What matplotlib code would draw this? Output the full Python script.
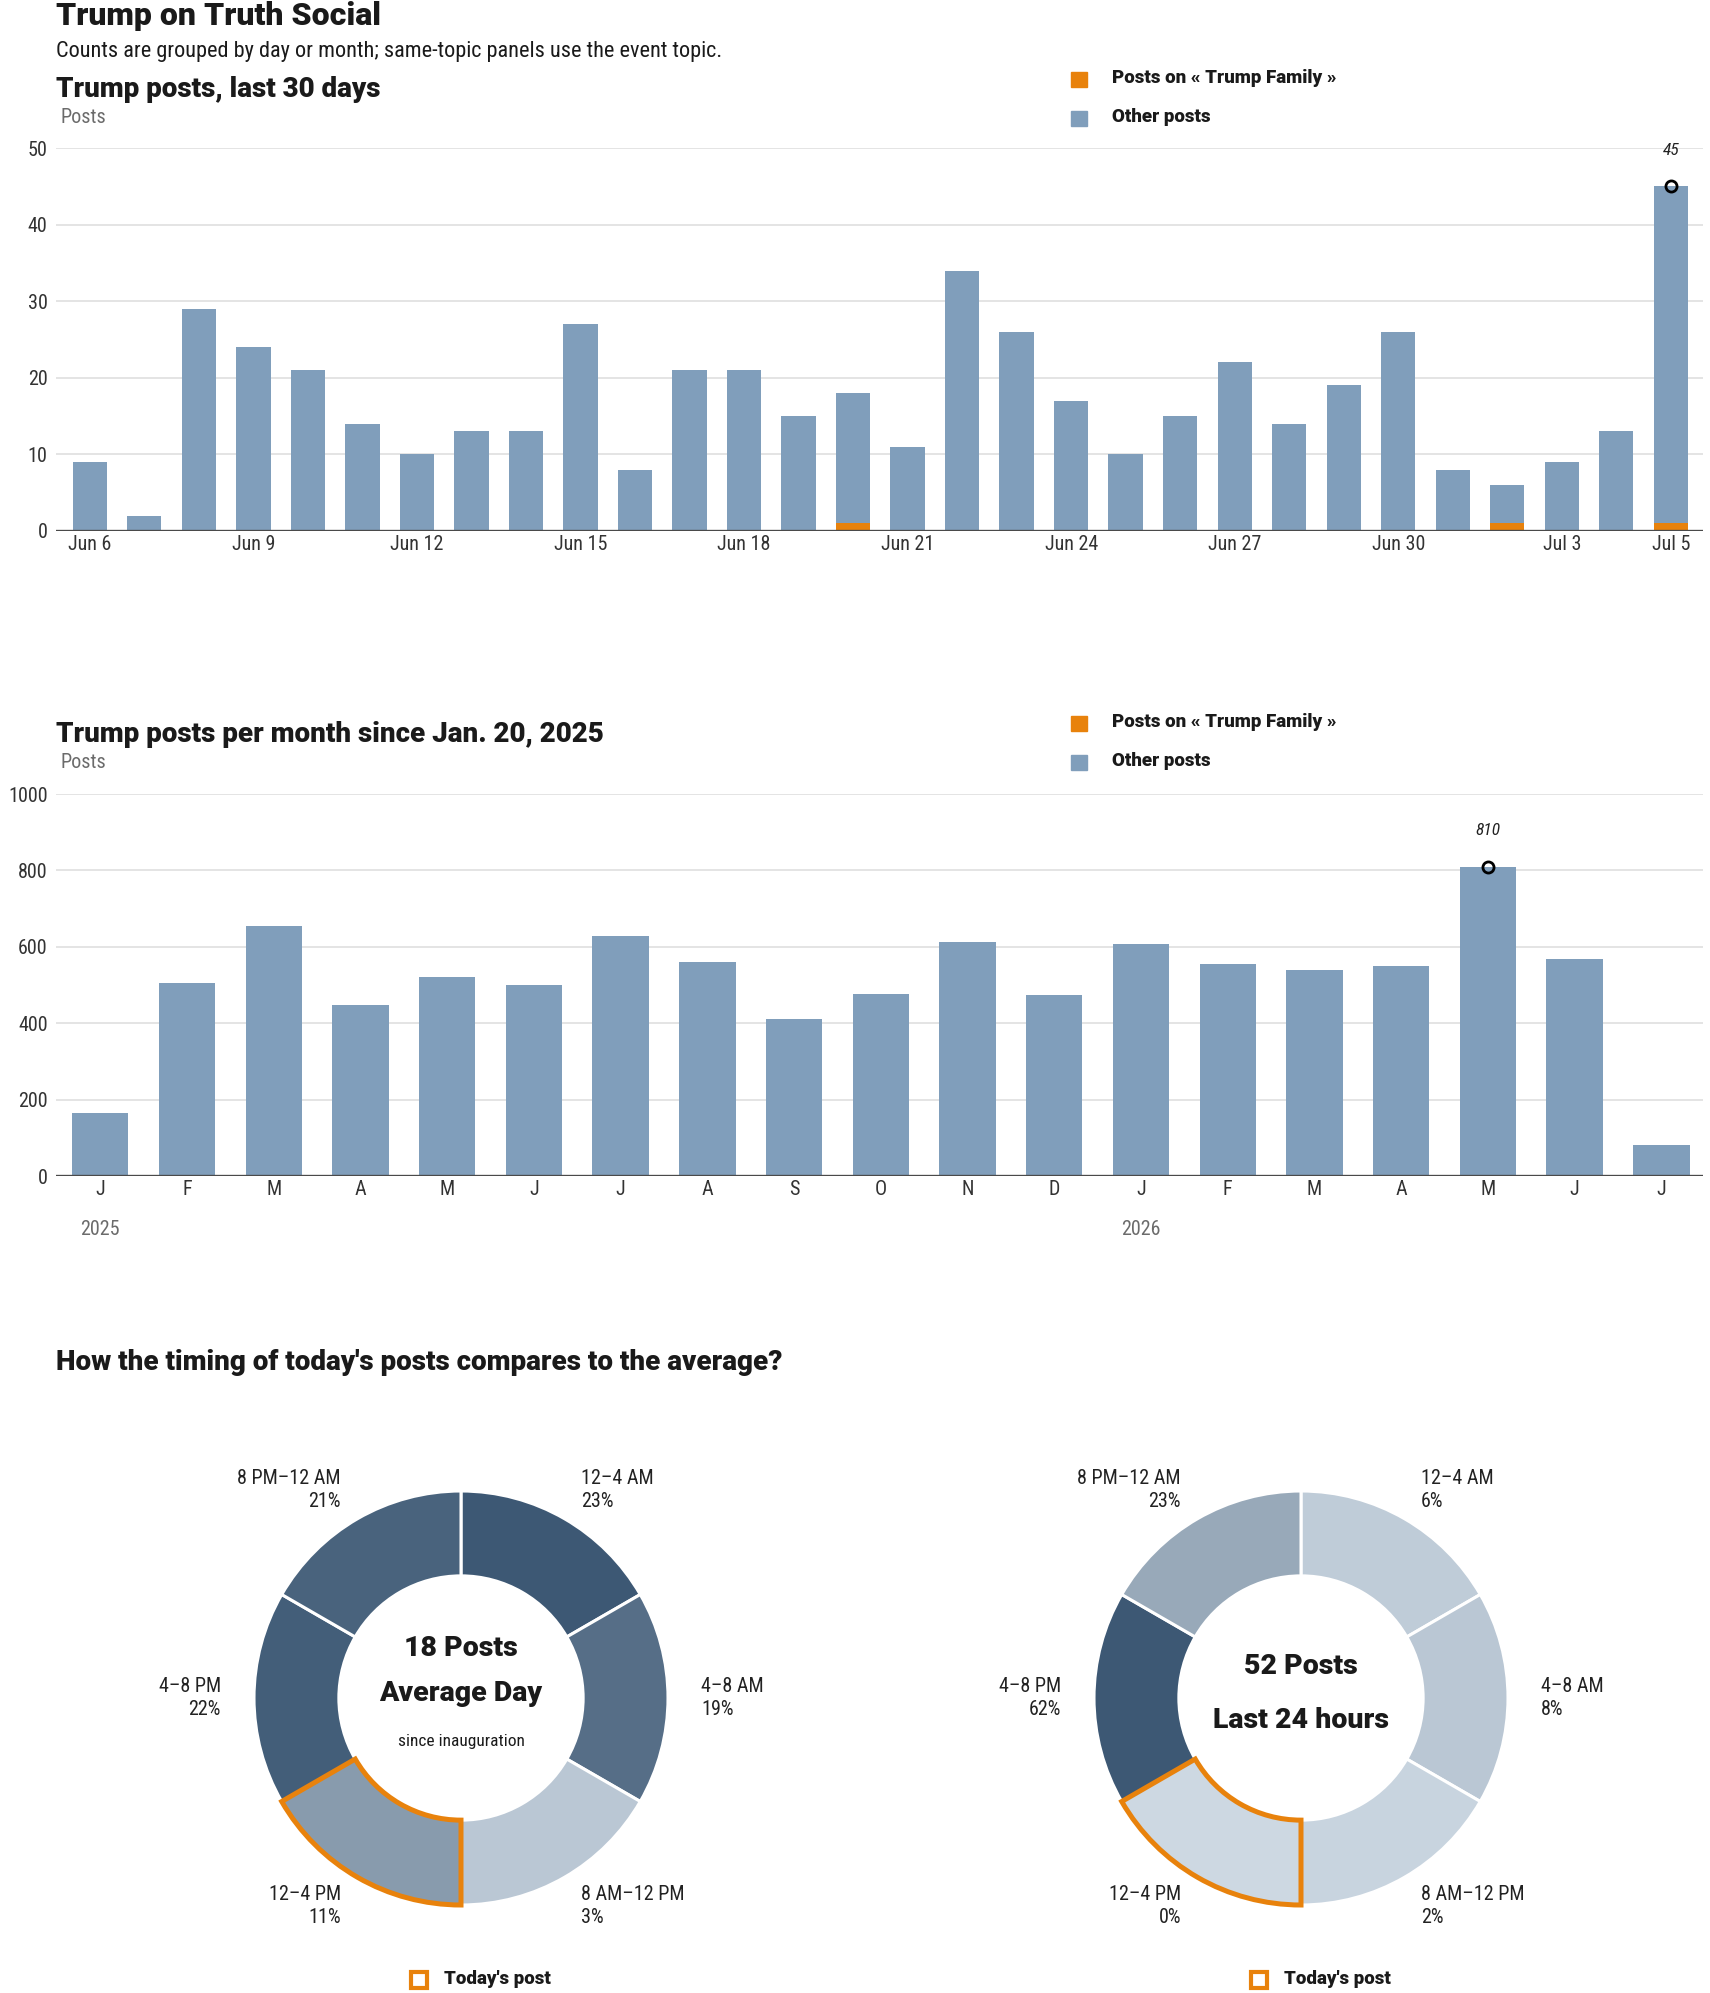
import numpy as np
import matplotlib
matplotlib.use("Agg")
import matplotlib.pyplot as plt
import matplotlib.font_manager as fm
from matplotlib.patches import Rectangle, Wedge
from matplotlib.colors import LinearSegmentedColormap

# ---------------- data ----------------
day_labels = ["Jun 6", "Jun 7", "Jun 8", "Jun 9", "Jun 10", "Jun 11", "Jun 12", "Jun 13",
              "Jun 14", "Jun 15", "Jun 16", "Jun 17", "Jun 18", "Jun 19", "Jun 20", "Jun 21",
              "Jun 22", "Jun 23", "Jun 24", "Jun 25", "Jun 26", "Jun 27", "Jun 28", "Jun 29",
              "Jun 30", "Jul 1", "Jul 2", "Jul 3", "Jul 4", "Jul 5"]
day_total = [9, 2, 29, 24, 21, 14, 10, 13, 13, 27, 8, 21, 21, 15, 18, 11,
             34, 26, 17, 10, 15, 22, 14, 19, 26, 8, 6, 9, 13, 45]
day_topic = [0, 0, 0, 0, 0, 0, 0, 0, 0, 0, 0, 0, 0, 0, 1, 0,
             0, 0, 0, 0, 0, 0, 0, 0, 0, 0, 1, 0, 0, 1]
day_ticks = ["Jun 6", "Jun 9", "Jun 12", "Jun 15", "Jun 18", "Jun 21", "Jun 24",
             "Jun 27", "Jun 30", "Jul 3", "Jul 5"]

month_labels = ["J", "F", "M", "A", "M", "J", "J", "A", "S", "O", "N", "D",
                "J", "F", "M", "A", "M", "J", "J"]
month_total = [165, 504, 654, 447, 520, 499, 628, 559, 412, 477, 612, 473,
               607, 556, 538, 549, 810, 568, 82]
month_topic = [0, 0, 0, 0, 0, 0, 0, 0, 0, 0, 0, 0,
               3, 0, 0, 0, 3, 0, 0]
year_labels = {0: "2025", 12: "2026"}

slots = ["12–4 AM", "4–8 AM", "8 AM–12 PM", "12–4 PM", "4–8 PM", "8 PM–12 AM"]
avg_share = [23, 19, 3, 11, 22, 21]
today_share = [6, 8, 2, 0, 62, 23]
today_slot = "12–4 PM"

# ---------------- style ----------------
names = {f.name for f in fm.fontManager.ttflist}
FONT = "DejaVu Sans"
for cand in ["Roboto Condensed", "Liberation Sans Narrow", "DejaVu Sans Condensed", "Liberation Sans"]:
    if cand in names:
        FONT = cand
        break
HEAD = "Roboto" if "Roboto" in names else FONT
plt.rcParams["font.family"] = [FONT, "DejaVu Sans"]
HEADF = dict(family=[HEAD, "DejaVu Sans"], fontweight="black")

BLUE = "#809ebb"
ORANGE = "#e8820c"
GRID = "#dcdcdc"
INK = "#1a1a1a"
TICK = "#333333"
GRAY = "#6b6b6b"

W, H = 1710, 1993
fig = plt.figure(figsize=(W / 100, H / 100), dpi=100)


def box(left, top, right, bottom):
    return [left / W, 1 - bottom / H, (right - left) / W, (bottom - top) / H]


def bar_panel(ax, totals, topic, width):
    x = np.arange(len(totals))
    other = np.array(totals) - np.array(topic)
    ax.bar(x, topic, width=width, color=ORANGE, zorder=2)
    ax.bar(x, other, bottom=topic, width=width, color=BLUE, zorder=2)
    ax.axhline(0, color="#4a4a4a", lw=2.4, zorder=4)
    ax.grid(axis="y", color=GRID, lw=1.1, zorder=0)
    for s in ax.spines.values():
        s.set_visible(False)
    ax.tick_params(length=0, labelsize=14.5, labelcolor=TICK)
    ax.tick_params(axis="y", pad=6)
    ax.tick_params(axis="x", pad=3)
    # peak marker
    i = int(np.argmax(totals))
    ax.plot(i, totals[i], "o", ms=8, mfc="none", mec="black", mew=2, zorder=5, clip_on=False)
    ax.annotate(str(totals[i]), (i, totals[i]), xytext=(0, 26), textcoords="offset points",
                ha="center", va="center", fontsize=12.5, style="italic", color="#222")
    return x


# ---------------- last 30 days ----------------
ax1 = fig.add_axes(box(56, 148, 1703, 531))
x1 = bar_panel(ax1, day_total, day_topic, 0.63)
ax1.set_ylim(0, 50)
ax1.set_yticks(range(0, 51, 10))
ax1.set_xlim(-0.62, len(day_total) - 1 + 0.59)
ax1.set_xticks([day_labels.index(d) for d in day_ticks])
ax1.set_xticklabels(day_ticks)

# ---------------- per month ----------------
ax2 = fig.add_axes(box(56, 794, 1703, 1176))
x2 = bar_panel(ax2, month_total, month_topic, 0.65)
ax2.set_ylim(0, 1000)
ax2.set_yticks(range(0, 1001, 200))
ax2.set_xlim(-0.51, len(month_total) - 1 + 0.48)
ax2.set_xticks(x2)
ax2.set_xticklabels(month_labels)
for i, yr in year_labels.items():
    ax2.text(i, -0.14, yr, transform=ax2.get_xaxis_transform(), ha="center", va="center",
             fontsize=14.5, color=GRAY)

# ---------------- donuts ----------------
cmap = LinearSegmentedColormap.from_list("blues", ["#cdd8e2", "#3d5874"])
R_PX = 207
LIM = 1.3


def donut(cx, cy, shares, center_lines):
    side = 2 * R_PX * LIM
    ax = fig.add_axes(box(cx - side / 2, cy - side / 2, cx + side / 2, cy + side / 2))
    top = max(shares)
    colors = [cmap(s / top) for s in shares]
    ax.pie([1] * len(shares), colors=colors, startangle=90, counterclock=False,
           radius=1, wedgeprops=dict(width=0.41, edgecolor="white", linewidth=2.2))
    ax.set_xlim(-LIM, LIM)
    ax.set_ylim(-LIM, LIM)
    ax.set_aspect("equal")
    ax.axis("off")
    # highlight today's slot
    k = slots.index(today_slot)
    step = 360 / len(slots)
    t2 = 90 - k * step
    t1 = t2 - step
    ax.add_patch(Wedge((0, 0), 1, t1, t2, width=0.41, fill=False, edgecolor=ORANGE,
                       lw=3.6, joinstyle="miter", zorder=5))
    # labels
    for j, (name, val) in enumerate(zip(slots, shares)):
        ang = np.deg2rad(90 - (j + 0.5) * step)
        lx, ly = 1.16 * np.cos(ang), 1.16 * np.sin(ang)
        ha = "left" if lx > 0.01 else "right"
        ax.text(lx, ly, f"{name}\n{val}%", ha=ha, va="center", multialignment=ha,
                fontsize=14.5, color="#222", linespacing=1.3)
    for txt, yy, size, bold in center_lines:
        if bold:
            ax.text(0, yy, txt, ha="center", va="center", fontsize=size, color=INK, **HEADF)
        else:
            ax.text(0, yy, txt, ha="center", va="center", fontsize=size, color=INK)


donut(461, 1698, avg_share, [("18 Posts", 0.237, 20.5, True),
                             ("Average Day", 0.02, 20.5, True),
                             ("since inauguration", -0.208, 12.5, False)])
donut(1301, 1698, today_share, [("52 Posts", 0.15, 20.5, True),
                                ("Last 24 hours", -0.11, 20.5, True)])

# ---------------- overlay texts and legends ----------------
ov = fig.add_axes([0, 0, 1, 1], zorder=10)
ov.set_xlim(0, W)
ov.set_ylim(H, 0)
ov.axis("off")

ov.text(56, 16, "Trump on Truth Social", fontsize=23, color=INK, va="center", **HEADF)
ov.text(56, 51, "Counts are grouped by day or month; same-topic panels use the event topic.",
        fontsize=16, color=INK, va="center")
ov.text(56, 89, "Trump posts, last 30 days", fontsize=20, color=INK, va="center", **HEADF)
ov.text(60, 117, "Posts", fontsize=14.5, color=GRAY, va="center")
ov.text(56, 734, "Trump posts per month since Jan. 20, 2025", fontsize=20, color=INK,
        va="center", **HEADF)
ov.text(60, 762, "Posts", fontsize=14.5, color=GRAY, va="center")
ov.text(56, 1363, "How the timing of today's posts compares to the average?", fontsize=20,
        color=INK, va="center", **HEADF)

for y0 in (72, 716):
    ov.add_patch(Rectangle((1071, y0), 16, 15, color=ORANGE))
    ov.text(1112, y0 + 6, "Posts on « Trump Family »", fontsize=13.5, color=INK, va="center",
            **HEADF)
    ov.add_patch(Rectangle((1071, y0 + 39), 16, 15, color=BLUE))
    ov.text(1112, y0 + 45, "Other posts", fontsize=13.5, color=INK, va="center", **HEADF)

for sx in (411, 1251):
    ov.add_patch(Rectangle((sx, 1972), 16, 16, fill=False, edgecolor=ORANGE, lw=3))
    ov.text(sx + 33, 1979, "Today's post", fontsize=13.5, color=INK, va="center", **HEADF)

fig.savefig("out.png", dpi=100)
